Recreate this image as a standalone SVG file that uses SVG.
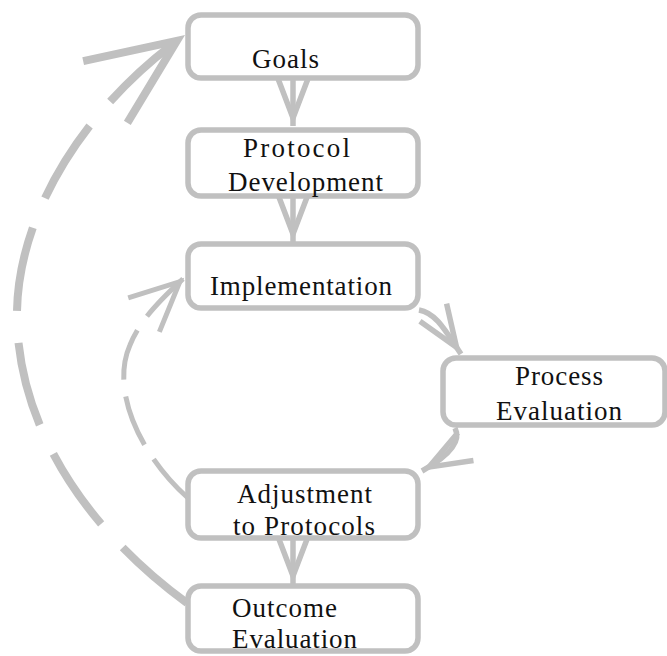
<svg xmlns="http://www.w3.org/2000/svg" width="667" height="656" viewBox="0 0 667 656">
<style>
.box{fill:#fff;stroke:#c0c0c0;stroke-width:5.5}
.t{font-family:"Liberation Serif","Times New Roman",serif;font-size:27px;fill:#111}
.c{fill:none;stroke:#c0c0c0;stroke-width:5.5}
.big{fill:none;stroke:#c0c0c0;stroke-width:8;stroke-dasharray:85 32}
.mid{fill:none;stroke:#c0c0c0;stroke-width:5;stroke-dasharray:52 17}
</style>
<defs>
<marker id="ah" markerUnits="userSpaceOnUse" viewBox="-60 -30 70 60" refX="0" refY="0" markerWidth="70" markerHeight="60" orient="auto" overflow="visible">
<path d="M-50,-16 L-8,0 L-50,16" fill="none" stroke="#c0c0c0" stroke-width="5.5"/>
</marker>
<marker id="ahBig" markerUnits="userSpaceOnUse" viewBox="-120 -60 130 120" refX="0" refY="0" markerWidth="130" markerHeight="120" orient="auto" overflow="visible">
<path d="M-98,-38 L-10,0 L-98,38" fill="none" stroke="#c0c0c0" stroke-width="8"/>
</marker>
<marker id="ahMid" markerUnits="userSpaceOnUse" viewBox="-80 -40 90 80" refX="0" refY="0" markerWidth="90" markerHeight="80" orient="auto" overflow="visible">
<path d="M-56,-23 L-7,0 L-56,23" fill="none" stroke="#c0c0c0" stroke-width="5"/>
</marker>
</defs>
<g id="connectors">
<path class="big" d="M187,603 C100,540 20,440 17,320 C15,220 80,110 185,35" marker-end="url(#ahBig)"/>
<path class="mid" d="M188,498 C140,455 110,390 130,345 C140,320 160,300 185,277" marker-end="url(#ahMid)"/>
<path class="c" d="M293,80 L293,126" marker-end="url(#ah)"/>
<path class="c" d="M293,197 L293,242" marker-end="url(#ah)"/>
<path class="c" d="M293,540 L293,584" marker-end="url(#ah)"/>
<path class="c" d="M419,310 C436,313 445,330 461,354" marker-end="url(#ah)"/>
<path class="c" d="M455,428 C460,438 456,452 422,471" marker-end="url(#ah)"/>
</g>
<g id="goals">
<rect class="box" x="188" y="15" width="230" height="63" rx="13"/>
<text class="t" x="252" y="68" textLength="67">Goals</text>
</g>
<g id="protocol-development">
<rect class="box" x="188" y="130" width="230" height="66" rx="13"/>
<text class="t" x="243" y="157" textLength="107">Protocol</text>
<text class="t" x="228" y="191" textLength="155">Development</text>
</g>
<g id="implementation">
<rect class="box" x="188" y="244" width="230" height="64" rx="13"/>
<text class="t" x="210" y="295" textLength="182">Implementation</text>
</g>
<g id="process-evaluation">
<rect class="box" x="443" y="358" width="222" height="67" rx="13"/>
<text class="t" x="515" y="385" textLength="88">Process</text>
<text class="t" x="496" y="420" textLength="126">Evaluation</text>
</g>
<g id="adjustment">
<rect class="box" x="188" y="471" width="230" height="67" rx="13"/>
<text class="t" x="237" y="503" textLength="135">Adjustment</text>
<text class="t" x="233" y="535" textLength="142">to Protocols</text>
</g>
<g id="outcome-evaluation">
<rect class="box" x="188" y="586" width="230" height="65" rx="13"/>
<text class="t" x="232" y="617" textLength="105">Outcome</text>
<text class="t" x="232" y="648" textLength="125">Evaluation</text>
</g>
</svg>
